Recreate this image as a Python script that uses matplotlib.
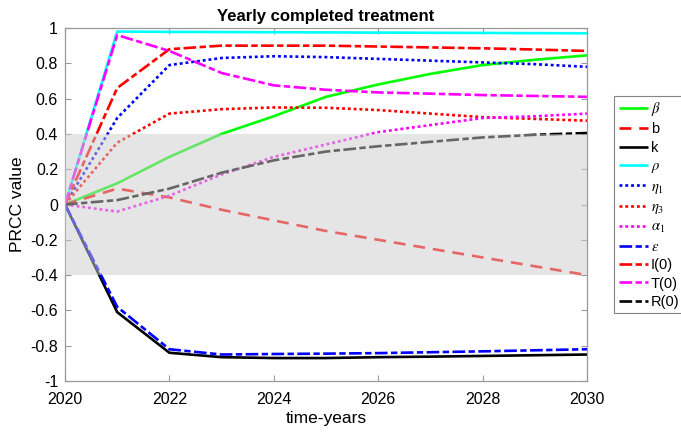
import numpy as np
import matplotlib
matplotlib.use('Agg')
import matplotlib.pyplot as plt

plt.rcParams['font.family'] = ['Liberation Sans', 'DejaVu Sans']
plt.rcParams['mathtext.fontset'] = 'stix'

years = [2020, 2021, 2022, 2023, 2024, 2025, 2026, 2027, 2028, 2029, 2030]

beta = [0, 0.12, 0.27, 0.40, 0.50, 0.61, 0.68, 0.74, 0.79, 0.82, 0.845]
b = [0, 0.09, 0.04, -0.03, -0.09, -0.15, -0.20, -0.25, -0.30, -0.35, -0.40]
k = [0, -0.61, -0.84, -0.865, -0.87, -0.87, -0.865, -0.862, -0.858, -0.854, -0.85]
rho = [0, 0.98, 0.978, 0.977, 0.976, 0.975, 0.974, 0.973, 0.972, 0.971, 0.97]
eta1 = [0, 0.49, 0.79, 0.83, 0.84, 0.835, 0.825, 0.815, 0.805, 0.795, 0.78]
eta3 = [0, 0.35, 0.515, 0.54, 0.55, 0.548, 0.535, 0.515, 0.495, 0.485, 0.475]
alpha1 = [0, -0.04, 0.05, 0.17, 0.27, 0.34, 0.41, 0.45, 0.49, 0.50, 0.515]
eps = [0, -0.58, -0.82, -0.85, -0.847, -0.845, -0.842, -0.837, -0.832, -0.826, -0.82]
I0 = [0, 0.66, 0.88, 0.90, 0.90, 0.90, 0.895, 0.89, 0.885, 0.878, 0.87]
T0 = [0, 0.96, 0.87, 0.745, 0.675, 0.65, 0.635, 0.628, 0.62, 0.615, 0.61]
R0 = [0, 0.025, 0.09, 0.18, 0.25, 0.30, 0.33, 0.355, 0.38, 0.395, 0.405]

labels = [r'$\beta$', 'b', 'k', r'$\rho$', r'$\eta_1$', r'$\eta_3$', r'$\alpha_1$',
          r'$\varepsilon$', 'I(0)', 'T(0)', 'R(0)']
series = [beta, b, k, rho, eta1, eta3, alpha1, eps, I0, T0, R0]
colors = ['#00ff00', '#ff0000', '#000000', '#00ffff', '#0000ff', '#ff0000', '#ff00ff',
          '#0000ff', '#ff0000', '#ff00ff', '#000000']
dashdot = (0, (4.8, 1.3, 2.4, 1.3))
styles = ['-', (0, (4.5, 3)), '-', '-', (0, (1.1, 1.1)), (0, (1.1, 1.1)), (0, (1.1, 1.1)),
          dashdot, dashdot, dashdot, dashdot]

fig = plt.figure(figsize=(6.81, 4.34), dpi=100)
ax = fig.add_axes([65/681, 1 - 381/434, 522/681, 353/434])

for y, lab, c, ls in zip(series, labels, colors, styles):
    ax.plot(years, y, color=c, linestyle=ls, linewidth=1.9, label=lab,
            dash_capstyle='butt', solid_capstyle='butt')

# semi-transparent band drawn over the lines
ax.fill_between([2020, 2030], -0.4, 0.4, color='0.8', alpha=0.5, linewidth=0, zorder=5)

ax.set_xlim(2020, 2030)
ax.set_ylim(-1, 1)
ax.set_xticks(np.arange(2020, 2031, 2))
ax.set_yticks(np.arange(-1, 1.01, 0.2))
ax.set_yticklabels(['-1', '-0.8', '-0.6', '-0.4', '-0.2', '0', '0.2', '0.4', '0.6', '0.8', '1'])
ax.tick_params(direction='in', top=True, right=True, labelsize=11.5, length=4,
               color='0.6', width=0.8, pad=5)
ax.tick_params(axis='x', pad=8)
for s in ax.spines.values():
    s.set_color('0.6')
    s.set_linewidth(0.9)

ax.set_xlabel('time-years', fontsize=12.5, labelpad=3)
ax.set_ylabel('PRCC value', fontsize=12.5)
ax.set_title('Yearly completed treatment', fontsize=12, fontweight='bold', pad=5)

leg = ax.legend(loc='center left', bbox_to_anchor=(1.052, 0.5), fontsize=10.5,
                handlelength=2.0, handletextpad=0.2, labelspacing=0.3,
                fancybox=False, borderpad=0.3, borderaxespad=0)
leg.get_frame().set_edgecolor('0.4')
leg.get_frame().set_linewidth(0.8)

fig.savefig('out.png', dpi=100)
